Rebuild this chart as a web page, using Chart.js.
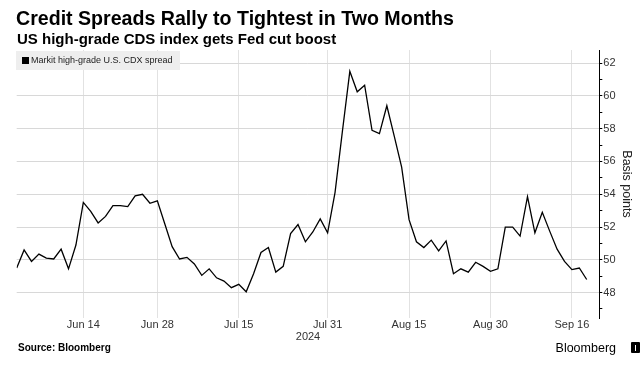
<!DOCTYPE html>
<html>
<head>
<meta charset="utf-8">
<script src="https://cdn.jsdelivr.net/npm/chart.js@4.4.1/dist/chart.umd.min.js"></script>
<style>
  body { margin: 0; background: #fff; font-family: "Liberation Sans", Arial, sans-serif; }
  #wrap { position: relative; width: 644px; height: 366px; overflow: hidden; }
  #wrap canvas { position: absolute; left: 0; top: 0; }
  .title { position: absolute; left: 16px; top: 7px; font-size: 19.6px; font-weight: bold; color: #000; white-space: nowrap; }
  .subtitle { position: absolute; left: 17px; top: 30px; font-size: 15px; font-weight: bold; color: #000; white-space: nowrap; }
  .legend { position: absolute; left: 16px; top: 51px; width: 164px; height: 19px; background: #eeeeee; font-size: 9px; color: #222; line-height: 19px; white-space: nowrap; }
  .legend i { display: inline-block; width: 7px; height: 7px; background: #000; margin: 0 2px 0 6px; vertical-align: -0.5px; }
  .source { position: absolute; left: 18px; top: 342px; font-size: 10px; font-weight: bold; color: #000; }
  .logo { position: absolute; right: 28px; top: 341px; font-size: 12.5px; color: #000; }
  .logo-mark { position: absolute; left: 631px; top: 342px; width: 9px; height: 11px; background: #000; border-radius: 1px; }
  .logo-mark b { position: absolute; left: 4px; top: 3px; width: 1px; height: 6px; background: #fff; }
</style>
</head>
<body>
<div id="wrap">
  <canvas id="cdxChart" width="644" height="366"></canvas>
  <div class="title">Credit Spreads Rally to Tightest in Two Months</div>
  <div class="subtitle">US high-grade CDS index gets Fed cut boost</div>
  <div class="legend"><i></i>Markit high-grade U.S. CDX spread</div>
  <div class="source">Source: Bloomberg</div>
  <div class="logo">Bloomberg</div>
  <div class="logo-mark"><b></b></div>
</div>
<script>
// trading days, Jun 3 - Sep 18 2024
const dates = [
  'Jun 3', 'Jun 4', 'Jun 5', 'Jun 6', 'Jun 7', 'Jun 10', 'Jun 11', 'Jun 12', 'Jun 13', 'Jun 14',
  'Jun 17', 'Jun 18', 'Jun 19', 'Jun 20', 'Jun 21', 'Jun 24', 'Jun 25', 'Jun 26', 'Jun 27', 'Jun 28',
  'Jul 1', 'Jul 2', 'Jul 3', 'Jul 4', 'Jul 5', 'Jul 8', 'Jul 9', 'Jul 10', 'Jul 11', 'Jul 12',
  'Jul 15', 'Jul 16', 'Jul 17', 'Jul 18', 'Jul 19', 'Jul 22', 'Jul 23', 'Jul 24', 'Jul 25', 'Jul 26',
  'Jul 29', 'Jul 30', 'Jul 31', 'Aug 1', 'Aug 2', 'Aug 5', 'Aug 6', 'Aug 7', 'Aug 8', 'Aug 9',
  'Aug 12', 'Aug 13', 'Aug 14', 'Aug 15', 'Aug 16', 'Aug 19', 'Aug 20', 'Aug 21', 'Aug 22', 'Aug 23',
  'Aug 26', 'Aug 27', 'Aug 28', 'Aug 29', 'Aug 30', 'Sep 2', 'Sep 3', 'Sep 4', 'Sep 5', 'Sep 6',
  'Sep 9', 'Sep 10', 'Sep 11', 'Sep 12', 'Sep 13', 'Sep 16', 'Sep 17', 'Sep 18'
];

// Markit high-grade U.S. CDX spread, basis points
const spread = [
  49.5, 50.6, 49.9, 50.35, 50.1, 50.05, 50.65, 49.45, 50.9, 53.5,
  52.95, 52.25, 52.65, 53.3, 53.3, 53.25, 53.9, 54.0, 53.45, 53.6,
  52.2, 50.8, 50.05, 50.15, 49.75, 49.05, 49.45, 48.9, 48.7, 48.3,
  48.5, 48.05, 49.15, 50.45, 50.75, 49.25, 49.6, 51.6, 52.15, 51.1,
  51.7, 52.5, 51.65, 54.1, 57.85, 61.5, 60.25, 60.65, 57.9, 57.7,
  59.4, 57.55, 55.65, 52.45, 51.1, 50.75, 51.2, 50.55, 51.15, 49.15,
  49.45, 49.25, 49.85, 49.6, 49.3, 49.45, 52.0, 52.0, 51.45, 53.85,
  51.65, 52.9, 51.75, 50.65, 49.9, 49.4, 49.5, 48.8
];

const tickLabels = ['Jun 14', 'Jun 28', 'Jul 15', 'Jul 31', 'Aug 15', 'Aug 30', 'Sep 16'];
const yearLabel = '2024';

const tickFont = { family: 'Liberation Sans', size: 11 };

const ctx = document.getElementById('cdxChart').getContext('2d');
new Chart(ctx, {
  type: 'line',
  data: {
    datasets: [{
      label: 'Markit high-grade U.S. CDX spread',
      data: spread.map((v, i) => ({ x: i, y: v })),
      borderColor: '#000',
      borderWidth: 1.3,
      pointRadius: 0,
      tension: 0
    }]
  },
  options: {
    responsive: false,
    animation: false,
    layout: { padding: { left: 16.7, top: 50, right: 8, bottom: 22 } },
    plugins: { legend: { display: false }, tooltip: { enabled: false } },
    scales: {
      x: {
        type: 'linear',
        min: 0,
        max: 78.7,
        afterBuildTicks: (scale) => {
          scale.ticks = tickLabels.map(l => ({ value: dates.indexOf(l) }));
        },
        afterFit: (scale) => { scale.height = 26; },
        ticks: {
          autoSkip: false,
          maxRotation: 0,
          padding: 0,
          color: '#333',
          font: tickFont,
          callback: (v) => dates[v]
        },
        grid: { color: '#e2e2e2', lineWidth: 1, drawTicks: false },
        border: { display: false },
        title: { display: true, text: yearLabel, color: '#333', font: tickFont, padding: 0 }
      },
      y: {
        position: 'right',
        min: 46.45,
        max: 62.8,
        afterBuildTicks: (scale) => {
          const t = [];
          for (let v = 47; v <= 62; v++) t.push({ value: v });
          scale.ticks = t;
        },
        afterFit: (scale) => { scale.width = 36.7; },
        ticks: {
          padding: 1,
          color: '#333',
          font: tickFont,
          callback: (v) => (v % 2 === 0 ? String(v) : '')
        },
        grid: {
          color: (c) => (c.tick && c.tick.value % 2 === 0 ? '#d8d8d8' : 'rgba(0,0,0,0)'),
          tickColor: '#000',
          tickLength: 3,
          tickBorderDash: [],
          borderDash: [2, 1]
        },
        border: { display: true, color: '#000', width: 1 },
        title: { display: true, text: 'Basis points', color: '#222', font: { family: 'Liberation Sans', size: 12.5 }, padding: { top: 2, bottom: 0 } }
      }
    }
  }
});
</script>
</body>
</html>
